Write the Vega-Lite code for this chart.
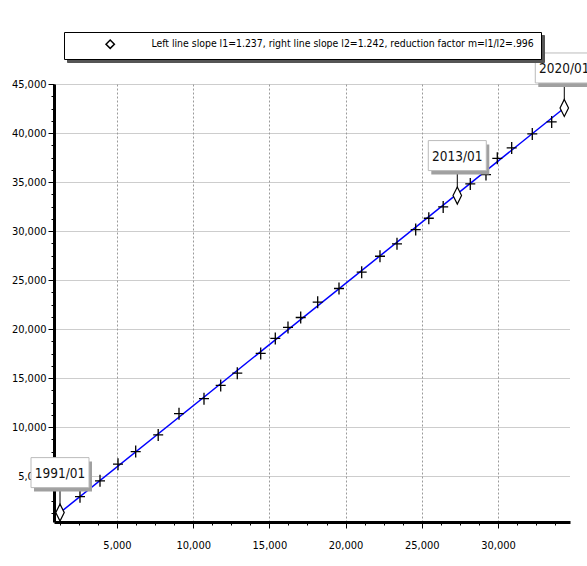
{
  "$schema": "https://vega.github.io/schema/vega-lite/v6.json",
  "autosize": {"type": "none"},
  "width": 516,
  "height": 438,
  "padding": {"left": 54, "top": 84, "right": 17, "bottom": 44},
  "background": "white",
  "datasets": {
    "crosses": [
      {"x": 2572, "y": 2900}, {"x": 3885, "y": 4511}, {"x": 5066, "y": 6213}, {"x": 6227, "y": 7498},
      {"x": 7704, "y": 9200}, {"x": 9069, "y": 11361}, {"x": 10709, "y": 12890}, {"x": 11805, "y": 14246},
      {"x": 12894, "y": 15500}, {"x": 14430, "y": 17508}, {"x": 15388, "y": 19037}, {"x": 16221, "y": 20159},
      {"x": 17055, "y": 21178}, {"x": 18170, "y": 22738}, {"x": 19568, "y": 24134}, {"x": 21057, "y": 25796},
      {"x": 22258, "y": 27427}, {"x": 23374, "y": 28691}, {"x": 24601, "y": 30149}, {"x": 25461, "y": 31301},
      {"x": 26405, "y": 32463}, {"x": 28184, "y": 34807}, {"x": 29214, "y": 35756}, {"x": 29956, "y": 37417},
      {"x": 30900, "y": 38477}, {"x": 32252, "y": 39904}, {"x": 33525, "y": 41128}
    ],
    "marks": [
      {"x": 1260, "y": 1269, "label": "1991/01"},
      {"x": 27331, "y": 33615, "label": "2013/01"},
      {"x": 34352, "y": 42555, "label": "2020/01"}
    ]
  },
  "encoding": {
    "x": {
      "field": "x", "type": "quantitative",
      "scale": {"domain": [866, 34727], "nice": false, "zero": false},
      "axis": {
        "title": null,
        "values": [1250, 2500, 3750, 5000, 6250, 7500, 8750, 10000, 11250, 12500, 13750, 15000, 16250, 17500, 18750, 20000, 21250, 22500, 23750, 25000, 26250, 27500, 28750, 30000, 31250, 32500, 33750],
        "format": ",d",
        "labelExpr": "datum.value % 5000 === 0 ? datum.label : ''",
        "labelOverlap": false,
        "labelFlush": false,
        "labelPadding": 11,
        "grid": true,
        "gridDash": [2, 2],
        "gridColor": "#9a9a9a",
        "gridOpacity": {"condition": {"test": "datum.value % 5000 === 0", "value": 1}, "value": 0},
        "tickSize": {"condition": {"test": "datum.value % 5000 === 0", "value": 6}, "value": 3}
      }
    },
    "y": {
      "field": "y", "type": "quantitative",
      "scale": {"domain": [311, 45000], "nice": false, "zero": false},
      "axis": {
        "title": null,
        "values": [1250, 2500, 3750, 5000, 6250, 7500, 8750, 10000, 11250, 12500, 13750, 15000, 16250, 17500, 18750, 20000, 21250, 22500, 23750, 25000, 26250, 27500, 28750, 30000, 31250, 32500, 33750, 35000, 36250, 37500, 38750, 40000, 41250, 42500, 43750, 45000],
        "format": ",d",
        "labelExpr": "datum.value % 5000 === 0 ? datum.label : ''",
        "labelOverlap": false,
        "labelFlush": false,
        "labelPadding": 2,
        "grid": true,
        "gridDash": [1, 1],
        "gridColor": "#9a9a9a",
        "gridOpacity": {"condition": {"test": "datum.value % 5000 === 0", "value": 1}, "value": 0},
        "tickSize": {"condition": {"test": "datum.value % 5000 === 0", "value": 6}, "value": 3}
      }
    }
  },
  "layer": [
    {
      "data": {"name": "marks"},
      "transform": [{"filter": "datum.label !== '2013/01'"}],
      "mark": {"type": "line", "color": "#0000ff", "strokeWidth": 1.5},
      "encoding": {}
    },
    {
      "data": {"name": "crosses"},
      "mark": {"type": "point", "shape": "M-1,0H1M0,-1.2V1.2", "size": 100, "filled": false, "stroke": "black", "strokeWidth": 1.3, "opacity": 1},
      "encoding": {}
    },
    {
      "data": {"name": "marks"},
      "mark": {"type": "rule", "color": "black", "strokeWidth": 1, "y2Offset": -25},
      "encoding": {"y2": {"field": "y"}}
    },
    {
      "data": {"name": "marks"},
      "mark": {"type": "point", "shape": "M0,-1L0.5,0L0,1L-0.5,0Z", "size": 289, "fill": "white", "filled": false, "strokeWidth": 1.2, "fillOpacity": 1},
      "encoding": {
        "opacity": {
          "datum": "Left line slope l1=1.237, right line slope l2=1.242, reduction factor m=l1/l2=.996 ",
          "type": "nominal",
          "scale": {"range": [1]},
          "legend": {
            "title": null,
            "orient": "none",
            "zindex": 1,
            "legendX": 13,
            "legendY": -49,
            "padding": 7,
            "strokeColor": "#555555",
            "fillColor": "#555555",
            "symbolType": "diamond",
            "symbolSize": 70,
            "symbolFillColor": "#555555",
            "symbolStrokeColor": "#555555",
            "symbolOffset": 34,
            "labelOffset": 36,
            "labelFont": "DejaVu Sans Condensed",
            "labelFontSize": 10.4,
            "labelColor": "#555555",
            "labelLimit": 700,
            "encoding": {"legend": {"update": {"strokeWidth": {"value": 2}}}}
          }
        },
        "stroke": {
          "datum": "Left line slope l1=1.237, right line slope l2=1.242, reduction factor m=l1/l2=.996",
          "type": "nominal",
          "scale": {"range": ["black"]},
          "legend": {
            "title": null,
            "orient": "none",
            "zindex": 2,
            "legendX": 10,
            "legendY": -52,
            "padding": 7,
            "strokeColor": "black",
            "fillColor": "white",
            "symbolType": "diamond",
            "symbolSize": 70,
            "symbolFillColor": "white",
            "symbolStrokeWidth": 1.5,
            "symbolOffset": 34,
            "labelOffset": 36,
            "labelFont": "DejaVu Sans Condensed",
            "labelFontSize": 10.4,
            "labelColor": "black",
            "labelLimit": 700,
            "encoding": {"legend": {"update": {"strokeWidth": {"value": 2}}}}
          }
        }
      }
    },
    {
      "data": {"name": "marks"},
      "mark": {"type": "point", "shape": "M-1,-0.517H1V0.517H-1Z", "size": 3364, "filled": true, "fill": "#a0a0a0", "opacity": 1, "strokeWidth": 0, "xOffset": 3, "yOffset": -36},
      "encoding": {}
    },
    {
      "data": {"name": "marks"},
      "mark": {"type": "point", "shape": "M-1,-0.517H1V0.517H-1Z", "size": 3364, "filled": true, "fill": "white", "stroke": "#bbbbbb", "strokeWidth": 1, "opacity": 1, "yOffset": -40},
      "encoding": {}
    },
    {
      "data": {"name": "marks"},
      "mark": {"type": "text", "font": "DejaVu Sans Condensed", "fontSize": 13.5, "color": "#111111", "align": "center", "baseline": "middle", "dy": -39},
      "encoding": {"text": {"field": "label"}}
    }
  ],
  "config": {
    "view": {"stroke": null},
    "font": "DejaVu Sans Condensed",
    "axis": {
      "domainColor": "black",
      "domainWidth": 3,
      "tickColor": "black",
      "tickWidth": 1,
      "labelFont": "DejaVu Sans Condensed",
      "labelFontSize": 11,
      "labelColor": "black",
      "gridWidth": 1
    }
  }
}
